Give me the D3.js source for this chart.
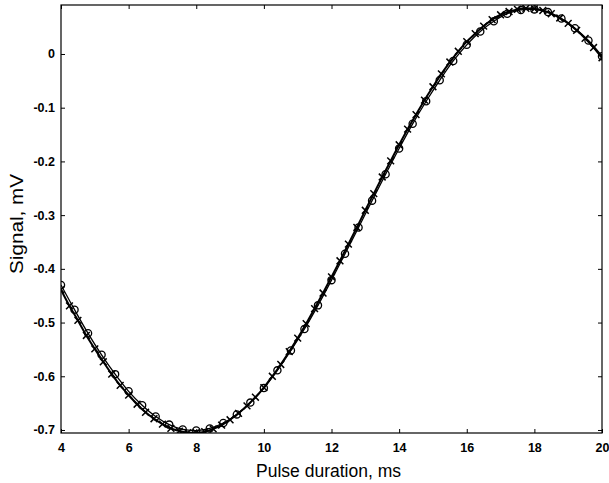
<!DOCTYPE html>
<html>
<head>
<meta charset="utf-8">
<script src="https://cdn.jsdelivr.net/npm/d3@7"></script>
<style>
  html, body { margin: 0; padding: 0; background: #fff; }
  svg { display: block; }
</style>
</head>
<body>
<svg id="chart" width="609" height="483"></svg>
<script>
// ---- data ----
const xTicks = [4, 6, 8, 10, 12, 14, 16, 18, 20];
const yTicks = [-0.7, -0.6, -0.5, -0.4, -0.3, -0.2, -0.1, 0];
const yTickLabels = ["-0.7", "-0.6", "-0.5", "-0.4", "-0.3", "-0.2", "-0.1", "0"];

// series with "x" markers
const crossX = [4.00,4.25,4.50,4.75,5.00,5.25,5.50,5.75,6.00,6.25,6.50,6.75,7.00,7.25,7.50,7.75,
  8.00,8.25,8.50,8.75,9.00,9.25,9.50,9.75,10.00,10.25,10.50,10.75,11.00,11.25,11.50,11.75,
  12.00,12.25,12.50,12.75,13.00,13.25,13.50,13.75,14.00,14.25,14.50,14.75,15.00,15.25,15.50,15.75,
  16.00,16.25,16.50,16.75,17.00,17.25,17.50,17.75,18.00,18.25,18.50,18.75,19.00,19.25,19.50,19.75,20.00];
const crossY = [-0.439,-0.469,-0.496,-0.524,-0.549,-0.573,-0.596,-0.617,-0.635,-0.652,-0.667,-0.679,-0.689,-0.697,-0.702,-0.705,
  -0.705,-0.703,-0.698,-0.691,-0.681,-0.669,-0.655,-0.639,-0.621,-0.600,-0.578,-0.554,-0.529,-0.502,-0.474,-0.445,
  -0.415,-0.385,-0.354,-0.323,-0.291,-0.260,-0.229,-0.199,-0.169,-0.140,-0.113,-0.086,-0.061,-0.037,-0.015,0.005,
  0.023,0.038,0.052,0.064,0.073,0.079,0.083,0.085,0.084,0.081,0.075,0.067,0.057,0.044,0.029,0.012,-0.007];

// series with "o" markers
const circX = [4.0,4.4,4.8,5.2,5.6,6.0,6.4,6.8,7.2,7.6,8.0,8.4,8.8,9.2,9.6,10.0,10.4,10.8,11.2,11.6,
  12.0,12.4,12.8,13.2,13.6,14.0,14.4,14.8,15.2,15.6,16.0,16.4,16.8,17.2,17.6,18.0,18.4,18.8,19.2,19.6,20.0];
const circY = [-0.430,-0.476,-0.520,-0.560,-0.596,-0.628,-0.654,-0.675,-0.690,-0.699,-0.701,-0.697,-0.687,-0.671,-0.649,-0.622,
  -0.589,-0.552,-0.512,-0.468,-0.421,-0.372,-0.323,-0.273,-0.224,-0.176,-0.130,-0.088,-0.049,-0.013,0.017,0.042,0.061,0.075,
  0.082,0.083,0.078,0.066,0.048,0.025,-0.004];

// ---- layout ----
const svg = d3.select("#chart");
const L = 61, R = 602, T = 5, B = 433;
const x = d3.scaleLinear().domain([4, 20]).range([L, R]);
const y = d3.scaleLinear().domain([-0.7056, 0.0912]).range([B, T]);

const font = "Arial, 'Liberation Sans', Helvetica, sans-serif";

const plot = svg.append("g");
svg.append("clipPath").attr("id", "clip")
  .append("rect").attr("x", L).attr("y", T).attr("width", R - L).attr("height", B - T);
const marks = plot.append("g").attr("clip-path", "url(#clip)");

const crossPts = crossX.map((v, i) => [v, crossY[i]]);
const circPts = circX.map((v, i) => [v, circY[i]]);

const line = d3.line().x(d => x(d[0])).y(d => y(d[1])).curve(d3.curveCatmullRom);

marks.append("path").datum(circPts).attr("d", line)
  .attr("fill", "none").attr("stroke", "#000").attr("stroke-width", 1.3);
marks.append("path").datum(crossPts).attr("d", line)
  .attr("fill", "none").attr("stroke", "#000").attr("stroke-width", 2);

// cross markers
const cs = 3.4;
marks.selectAll(".cross").data(crossPts).enter().append("path")
  .attr("class", "cross")
  .attr("d", d => {
    const px = x(d[0]), py = y(d[1]);
    return `M${px - cs},${py - cs}L${px + cs},${py + cs}M${px - cs},${py + cs}L${px + cs},${py - cs}`;
  })
  .attr("stroke", "#000").attr("stroke-width", 1.5).attr("fill", "none");

// circle markers
marks.selectAll(".circ").data(circPts).enter().append("circle")
  .attr("class", "circ")
  .attr("cx", d => x(d[0])).attr("cy", d => y(d[1])).attr("r", 3.6)
  .attr("fill", "none").attr("stroke", "#000").attr("stroke-width", 1.3);

// frame
plot.append("rect").attr("x", L).attr("y", T).attr("width", R - L).attr("height", B - T)
  .attr("fill", "none").attr("stroke", "#000").attr("stroke-width", 1.2);

// ticks (inward, all four sides)
const tl = 4;
const axB = plot.append("g").attr("transform", `translate(0,${B})`)
  .call(d3.axisBottom(x).tickValues(xTicks).tickSize(-tl).tickFormat(d3.format("d")).tickPadding(10));
const axT = plot.append("g").attr("transform", `translate(0,${T})`)
  .call(d3.axisTop(x).tickValues(xTicks).tickSize(-tl).tickFormat(""));
const axL = plot.append("g").attr("transform", `translate(${L},0)`)
  .call(d3.axisLeft(y).tickValues(yTicks).tickSize(-tl).tickFormat((d, i) => yTickLabels[i]).tickPadding(6));
const axR = plot.append("g").attr("transform", `translate(${R},0)`)
  .call(d3.axisRight(y).tickValues(yTicks).tickSize(-tl).tickFormat(""));

[axB, axT, axL, axR].forEach(a => {
  a.select(".domain").remove();
  a.selectAll(".tick line").attr("stroke", "#000").attr("stroke-width", 1);
  a.selectAll("text").attr("font-family", font).attr("font-size", 12.5)
    .attr("font-weight", "bold").attr("fill", "#000");
});
axB.selectAll("text").attr("dy", "0.71em");

// axis titles
svg.append("text").attr("x", (L + R) / 2 - 3).attr("y", 477)
  .attr("text-anchor", "middle").attr("font-family", font).attr("font-size", 17.5)
  .attr("fill", "#000").text("Pulse duration, ms");

svg.append("text").attr("transform", "translate(23,224) rotate(-90)")
  .attr("text-anchor", "middle").attr("font-family", font).attr("font-size", 18)
  .attr("textLength", 100).attr("lengthAdjust", "spacingAndGlyphs")
  .attr("fill", "#000").text("Signal, mV");
</script>
</body>
</html>
